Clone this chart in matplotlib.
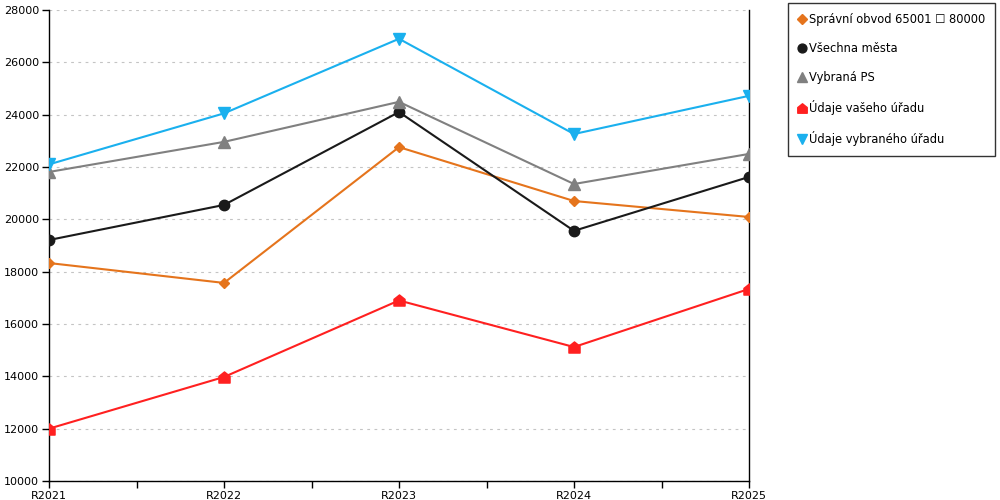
import matplotlib
matplotlib.use("Agg")
import matplotlib.pyplot as plt
from matplotlib.path import Path
from matplotlib.ticker import MultipleLocator, FixedLocator

categories = ["R2021", "R2022", "R2023", "R2024", "R2025"]
spravni_obvod = [18330, 17570, 22760, 20700, 20090]
vsechna_mesta = [19210, 20550, 24100, 19560, 21620]
vybrana_ps = [21810, 22960, 24490, 21350, 22500]
vaseho_uradu = [12000, 13975, 16900, 15120, 17340]
vybraneho_uradu = [22100, 24050, 26900, 23260, 24720]

labels = ["Správní obvod 65001 \u2610 80000", "Všechna města", "Vybraná PS",
          "Údaje vašeho úřadu", "Údaje vybraného úřadu"]

plt.rcParams['font.family'] = ['DejaVu Sans']
fig = plt.figure(figsize=(10, 5), dpi=100)
ax = fig.add_axes([0.049, 0.038, 0.700, 0.942])

house = Path([(-1, -1), (1, -1), (1, 0.2), (0, 1), (-1, 0.2), (-1, -1)],
             [Path.MOVETO, Path.LINETO, Path.LINETO, Path.LINETO, Path.LINETO, Path.CLOSEPOLY])

x = list(range(len(categories)))
ax.plot(x, spravni_obvod, color='#e5741c', lw=1.5, marker='D', ms=5.5, label=labels[0], zorder=3)
ax.plot(x, vsechna_mesta, color='#1a1a1a', lw=1.5, marker='o', ms=7.5, label=labels[1], zorder=3)
ax.plot(x, vybrana_ps, color='#808080', lw=1.5, marker='^', ms=8.5, label=labels[2], zorder=3)
ax.plot(x, vaseho_uradu, color='#ff2020', lw=1.5, marker=house, ms=8, label=labels[3], zorder=3)
ax.plot(x, vybraneho_uradu, color='#1ab0ee', lw=1.5, marker='v', ms=8.5, label=labels[4], zorder=3)

ax.set_xlim(0, 4)
ax.set_ylim(10000, 28000)
ax.yaxis.set_major_locator(MultipleLocator(2000))
ax.set_xticks(x)
ax.set_xticklabels(categories)
ax.xaxis.set_minor_locator(FixedLocator([0.5, 1.5, 2.5, 3.5]))
ax.tick_params(axis='both', which='both', direction='out', length=5, width=1, labelsize=8, colors='black', pad=2)
ax.grid(axis='y', color='#c4c4c4', linestyle=(0, (2.5, 4)), lw=0.8)
ax.set_axisbelow(True)
ax.spines['top'].set_visible(False)
for s in ['left', 'right', 'bottom']:
    ax.spines[s].set_color('black')
    ax.spines[s].set_linewidth(1)

leg = fig.legend(loc='upper left', bbox_to_anchor=(0.788, 0.994), frameon=True,
                 fontsize=8.3, handlelength=0.7, handletextpad=0.3,
                 labelspacing=1.4, borderpad=0.85, borderaxespad=0, fancybox=False,
                 edgecolor='black', markerscale=0.85)
leg.get_frame().set_linewidth(1)
for h in leg.legend_handles:
    h.set_linestyle('None')

fig.savefig("out.png", dpi=100)
